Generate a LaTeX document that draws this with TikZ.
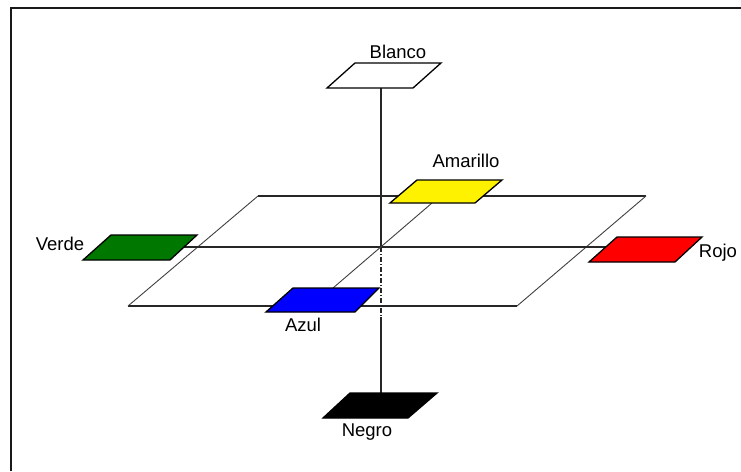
\documentclass[tikz,border=0pt]{standalone}
\usepackage{fontspec}
\setmainfont{Liberation Sans}
\begin{document}
\begin{tikzpicture}[x=1pt,y=-1pt,
  lbl/.style={inner sep=0pt,anchor=base,font=\fontsize{18.5}{18.5}\selectfont},
  thinln/.style={line width=1.1pt,black!85},
  slantln/.style={line width=0.9pt,black!75},
  plg/.style={line width=1.3pt,draw=black,line join=miter},
  dashdotln/.style={line width=1.1pt,black!85,dash pattern=on 5pt off 2pt on 1.2pt off 2pt}]
\useasboundingbox (0,0) rectangle (741,471);
\fill[white] (0,0) rectangle (741,471);
% frame
\draw[line width=2.6pt,black!90] (11,471) -- (11,8) -- (741,8);
% named points
\coordinate (O) at (381,247);
\coordinate (blancoB) at (381,88);
\coordinate (negroT) at (381,393);
\coordinate (mid) at (381,317);
\coordinate (verdeR) at (184,247);
\coordinate (rojoL) at (606,247);
\coordinate (azulT) at (333,288);
\coordinate (amaB) at (432,203);
% large plane
\draw[thinln] (258,196) -- (646,196);
\draw[thinln] (128,306) -- (517,306);
\draw[slantln] (128,306) -- (258,196);
\draw[slantln] (517,306) -- (646,196);
% axes
\draw[thinln] (verdeR) -- (rojoL);
\draw[thinln] (blancoB) -- (O);
\draw[dashdotln] (O) -- (mid);
\draw[thinln] (mid) -- (negroT);
\draw[slantln] (azulT) -- (amaB);
% parallelograms
\draw[plg,fill=white] (327,88) -- (413,88) -- (441,63) -- (355,63) -- cycle;
\draw[plg,fill=yellow] (390,203) -- (475,203) -- (502,180) -- (417,180) -- cycle;
\draw[plg,fill={rgb,255:red,0;green,120;blue,0}] (83,260) -- (170,260) -- (197,235) -- (111,235) -- cycle;
\draw[plg,fill={rgb,255:red,0;green,0;blue,255}] (266,312) -- (355,312) -- (379,288) -- (293,288) -- cycle;
\draw[plg,fill={rgb,255:red,255;green,0;blue,0}] (589,262) -- (675,262) -- (702,237) -- (617,237) -- cycle;
\draw[plg,fill=black] (323,418) -- (408,418) -- (437,393) -- (350,393) -- cycle;
% labels
\node[lbl] (lblanco) at (398,58) {Blanco};
\node[lbl] (lamarillo) at (466,167) {Amarillo};
\node[lbl] (lverde) at (60,250) {Verde};
\node[lbl] (lazul) at (303,331) {Azul};
\node[lbl] (lrojo) at (718,257) {Rojo};
\node[lbl] (lnegro) at (367,436) {Negro};
\end{tikzpicture}
\end{document}
